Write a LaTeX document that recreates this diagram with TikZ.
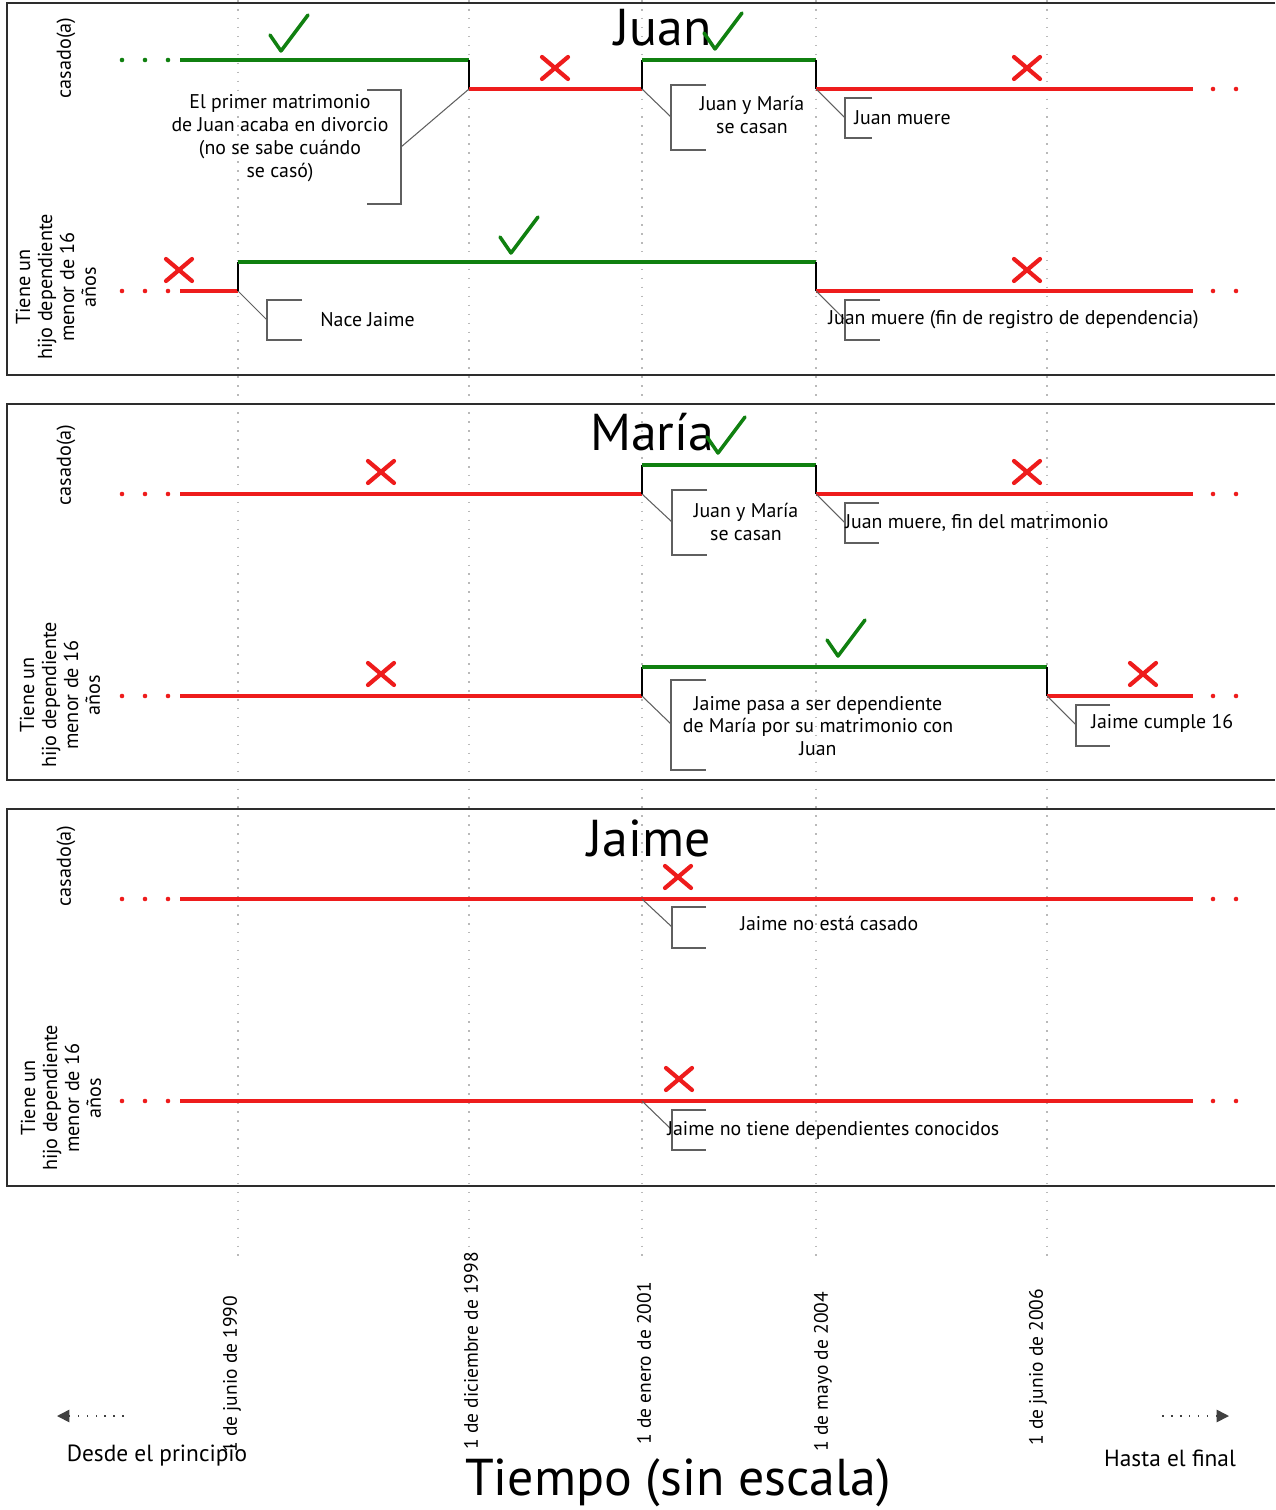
\documentclass[tikz,border=0pt]{standalone}
\usepackage{fontspec}
\setmainfont{PT Sans}
\usetikzlibrary{arrows.meta}
\definecolor{okgreen}{RGB}{16,128,16}
\definecolor{nored}{RGB}{238,28,28}
\definecolor{brkgray}{RGB}{95,95,95}

\tikzset{
  onln/.style={okgreen, line width=2.3pt},
  offln/.style={nored, line width=2.3pt},
  stepln/.style={black, line width=0.8pt},
  brkln/.style={brkgray, line width=1.1pt},
  leadln/.style={brkgray, line width=0.6pt},
  gridln/.style={gray!55, line width=0.9pt, dash pattern=on 0.9pt off 4.2pt},
  panelln/.style={gray!35!black, line width=1pt},
  txt/.style={font=\fontsize{11.3}{13}\selectfont, inner sep=0pt, align=center},
  rowtxt/.style={font=\fontsize{11.5}{12.5}\selectfont, inner sep=0pt, align=center, rotate=90},
  datetxt/.style={font=\fontsize{11.1}{13}\selectfont, inner sep=0pt, rotate=90, anchor=west},
  bigtxt/.style={font=\fontsize{13.3}{15}\selectfont, inner sep=0pt},
  ttltxt/.style={font=\fontsize{29.5}{34}\selectfont, inner sep=0pt},
  arrowln/.style={black!75, line width=0.9pt, dash pattern=on 0.9pt off 4.2pt,
    -{Triangle[length=7pt,width=7pt]}},
  okmark/.pic={\draw[okgreen, line width=2pt, line cap=round, line join=round]
    (-18,0) -- (-7,16) -- (20,-20);},
  nomark/.pic={\draw[nored, line width=2.4pt, line cap=round]
    (-13,-11) -- (13,11) (-13,11) -- (13,-11);},
}

\begin{document}
\begin{tikzpicture}[x=0.02cm, y=-0.02cm]
    \useasboundingbox (0,0) rectangle (1275,1510);
    % dotted date lines
    \foreach \x in {238,469,642,816,1047}
        \draw[gridln] (\x,0) -- (\x,1258);

    % ---------------- Juan ----------------
    \draw[panelln] (1275,3) -| (7,375) -- (1275,375);
    \node[ttltxt] (juan) at (663,28) {Juan};
    % casado
    \node[rowtxt] (jcas) at (66,58) {casado(a)};
    \foreach \x in {122,145,168} \fill[okgreen] (\x,60) circle (1.3pt);
    \draw[onln] (180,60) -- (469,60);
    \draw[stepln] (469,60) -- (469,89);
    \draw[offln] (469,89) -- (642,89);
    \draw[stepln] (642,89) -- (642,60);
    \draw[onln] (642,60) -- (816,60);
    \draw[stepln] (816,60) -- (816,89);
    \draw[offln] (816,89) -- (1193,89);
    \foreach \x in {1213,1236} \fill[nored] (\x,89) circle (1.3pt);
    \pic at (288,35) {okmark};
    \pic at (555,68) {nomark};
    \pic at (722,33) {okmark};
    \pic at (1027,68) {nomark};
    \coordinate (jc1) at (469,89);
    \coordinate (jc1b) at (401,147);
    \draw[brkln] (367,90) -| (jc1b) |- (367,204);
    \draw[leadln] (jc1) -- (jc1b);
    \node[txt] (jc1t) at (280,138) {El primer matrimonio\\de Juan acaba en divorcio\\(no se sabe cuándo\\se casó)};
    \coordinate (jc2) at (642,89);
    \coordinate (jc2b) at (671,117);
    \draw[brkln] (706,85) -| (jc2b) |- (706,150);
    \draw[leadln] (jc2) -- (jc2b);
    \node[txt] (jc2t) at (752,115) {Juan y María\\se casan};
    \coordinate (jc3) at (816,89);
    \coordinate (jc3b) at (845,118);
    \draw[brkln] (872,98) -| (jc3b) |- (872,138);
    \draw[leadln] (jc3) -- (jc3b);
    \node[txt, anchor=west] (jc3t) at (854,118) {Juan muere};
    % hijo dependiente
    \node[rowtxt] (jdep) at (56,287) {Tiene un\\hijo dependiente\\menor de 16\\años};
    \foreach \x in {122,145,168} \fill[nored] (\x,291) circle (1.3pt);
    \draw[offln] (180,291) -- (238,291);
    \draw[stepln] (238,291) -- (238,262);
    \draw[onln] (238,262) -- (816,262);
    \draw[stepln] (816,262) -- (816,291);
    \draw[offln] (816,291) -- (1193,291);
    \foreach \x in {1213,1236} \fill[nored] (\x,291) circle (1.3pt);
    \pic at (179,270) {nomark};
    \pic at (518,237) {okmark};
    \pic at (1027,270) {nomark};
    \coordinate (jd1) at (238,291);
    \coordinate (jd1b) at (267,320);
    \draw[brkln] (302,300) -| (jd1b) |- (302,340);
    \draw[leadln] (jd1) -- (jd1b);
    \node[txt, anchor=west] (jd1t) at (320,320) {Nace Jaime};
    \coordinate (jd2) at (816,291);
    \coordinate (jd2b) at (845,320);
    \draw[brkln] (880,300) -| (jd2b) |- (880,340);
    \draw[leadln] (jd2) -- (jd2b);
    \node[txt, anchor=west] (jd2t) at (828,320) {Juan muere (fin de registro de dependencia)};

    % ---------------- María ----------------
    \draw[panelln] (1275,404) -| (7,780) -- (1275,780);
    \node[ttltxt] (maria) at (652,432) {María};
    % casado
    \node[rowtxt] (mcas) at (66,465) {casado(a)};
    \foreach \x in {122,145,168} \fill[nored] (\x,494) circle (1.3pt);
    \draw[offln] (180,494) -- (642,494);
    \draw[stepln] (642,494) -- (642,465);
    \draw[onln] (642,465) -- (816,465);
    \draw[stepln] (816,465) -- (816,494);
    \draw[offln] (816,494) -- (1193,494);
    \foreach \x in {1213,1236} \fill[nored] (\x,494) circle (1.3pt);
    \pic at (381,472) {nomark};
    \pic at (725,437) {okmark};
    \pic at (1027,472) {nomark};
    \coordinate (mc1) at (642,494);
    \coordinate (mc1b) at (672,522);
    \draw[brkln] (707,490) -| (mc1b) |- (707,555);
    \draw[leadln] (mc1) -- (mc1b);
    \node[txt] (mc1t) at (746,522) {Juan y María\\se casan};
    \coordinate (mc2) at (816,494);
    \coordinate (mc2b) at (845,523);
    \draw[brkln] (879,503) -| (mc2b) |- (879,543);
    \draw[leadln] (mc2) -- (mc2b);
    \node[txt, anchor=west] (mc2t) at (845,523) {Juan muere, fin del matrimonio};
    % hijo dependiente
    \node[rowtxt] (mdep) at (60,695) {Tiene un\\hijo dependiente\\menor de 16\\años};
    \foreach \x in {122,145,168} \fill[nored] (\x,696) circle (1.3pt);
    \draw[offln] (180,696) -- (642,696);
    \draw[stepln] (642,696) -- (642,667);
    \draw[onln] (642,667) -- (1047,667);
    \draw[stepln] (1047,667) -- (1047,696);
    \draw[offln] (1047,696) -- (1193,696);
    \foreach \x in {1213,1236} \fill[nored] (\x,696) circle (1.3pt);
    \pic at (381,674) {nomark};
    \pic at (845,640) {okmark};
    \pic at (1143,674) {nomark};
    \coordinate (md1) at (642,696);
    \coordinate (md1b) at (671,724);
    \draw[brkln] (706,680) -| (md1b) |- (706,770);
    \draw[leadln] (md1) -- (md1b);
    \node[txt] (md1t) at (818,726) {Jaime pasa a ser dependiente\\de María por su matrimonio con\\Juan};
    \coordinate (md2) at (1047,696);
    \coordinate (md2b) at (1076,725);
    \draw[brkln] (1110,705) -| (md2b) |- (1110,746);
    \draw[leadln] (md2) -- (md2b);
    \node[txt, anchor=west] (md2t) at (1091,723) {Jaime cumple 16};

    % ---------------- Jaime ----------------
    \draw[panelln] (1275,809) -| (7,1186) -- (1275,1186);
    \node[ttltxt] (jaime) at (649,838) {Jaime};
    % casado
    \node[rowtxt] (acas) at (66,866) {casado(a)};
    \foreach \x in {122,145,168} \fill[nored] (\x,899) circle (1.3pt);
    \draw[offln] (180,899) -- (1193,899);
    \foreach \x in {1213,1236} \fill[nored] (\x,899) circle (1.3pt);
    \pic at (678,877) {nomark};
    \coordinate (ac1) at (642,899);
    \coordinate (ac1b) at (672,927);
    \draw[brkln] (706,907) -| (ac1b) |- (706,948);
    \draw[leadln] (ac1) -- (ac1b);
    \node[txt, anchor=west] (ac1t) at (740,923) {Jaime no está casado};
    % hijo dependiente
    \node[rowtxt] (adep) at (61,1098) {Tiene un\\hijo dependiente\\menor de 16\\años};
    \foreach \x in {122,145,168} \fill[nored] (\x,1101) circle (1.3pt);
    \draw[offln] (180,1101) -- (1193,1101);
    \foreach \x in {1213,1236} \fill[nored] (\x,1101) circle (1.3pt);
    \pic at (679,1079) {nomark};
    \coordinate (ad1) at (642,1101);
    \coordinate (ad1b) at (672,1130);
    \draw[brkln] (706,1110) -| (ad1b) |- (706,1150);
    \draw[leadln] (ad1) -- (ad1b);
    \node[txt, anchor=west] (ad1t) at (667,1130) {Jaime no tiene dependientes conocidos};

    % ---------------- time axis ----------------
    \node[datetxt] (d1990) at (232,1453) {1 de junio de 1990};
    \node[datetxt] (d1998) at (471,1450) {1 de diciembre de 1998};
    \node[datetxt] (d2001) at (644,1445) {1 de enero de 2001};
    \node[datetxt] (d2004) at (823,1452) {1 de mayo de 2004};
    \node[datetxt] (d2006) at (1038,1446) {1 de junio de 2006};
    \coordinate (pasta) at (124,1416);
    \coordinate (pastb) at (57,1416);
    \draw[arrowln] (pasta) -- (pastb);
    \coordinate (futa) at (1162,1416);
    \coordinate (futb) at (1229,1416);
    \draw[arrowln] (futa) -- (futb);
    \node[bigtxt] (desde) at (157,1456) {Desde el principio};
    \node[bigtxt] (hasta) at (1170,1458) {Hasta el final};
    \node[ttltxt] (tiempo) at (678,1483) {Tiempo (sin escala)};
\end{tikzpicture}
\end{document}
